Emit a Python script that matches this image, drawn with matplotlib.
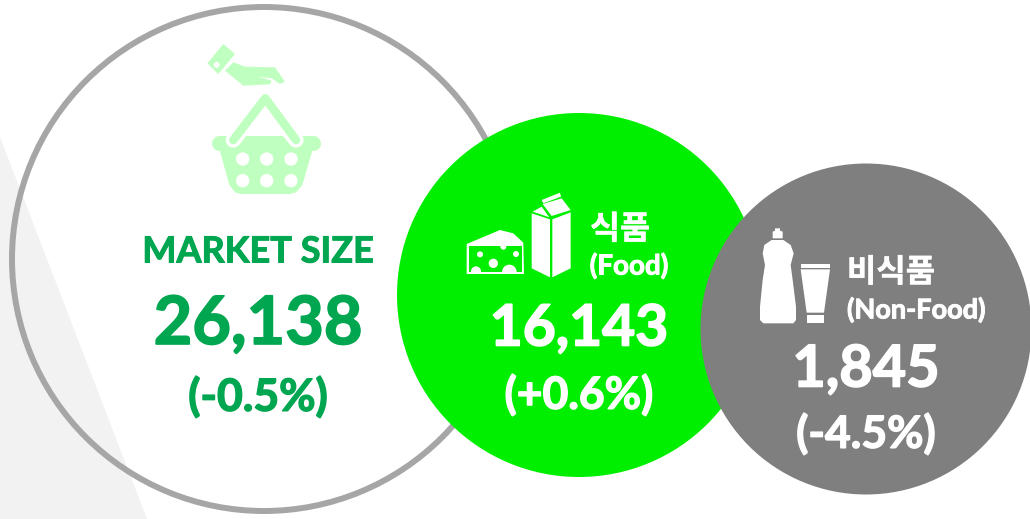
import matplotlib
matplotlib.use('Agg')
import matplotlib.pyplot as plt
import matplotlib.patheffects as pe
from matplotlib.patches import Circle, Polygon, Rectangle

# data
labels_kr = ['', '식품', '비식품']
labels_en = ['MARKET SIZE', '(Food)', '(Non-Food)']
values = ['26,138', '16,143', '1,845']
changes = ['(-0.5%)', '(+0.6%)', '(-4.5%)']

GREEN = '#00a650'
LIME = '#00ee00'
GRAY = '#7f7f7f'
PALE = '#bfffbf'
FONT = ['Lato', 'Noto Sans CJK KR', 'DejaVu Sans']

fig = plt.figure(figsize=(10.30, 5.19), dpi=100)
ax = fig.add_axes([0, 0, 1, 1])
ax.set_xlim(0, 1030)
ax.set_ylim(519, 0)
ax.axis('off')


def zoomed(pts, ox, oy):
    # the icons were measured on 3x crops
    return [(ox + x / 3, oy + y / 3) for x, y in pts]


def poly(pts, ox, oy, color, z=5):
    ax.add_patch(Polygon(zoomed(pts, ox, oy), closed=True, fc=color, ec='none', zorder=z))


def dot(x, y, r, ox, oy, color, z=6):
    c = Circle((ox + x / 3, oy + y / 3), r / 3, fc=color, ec='none', zorder=z)
    ax.add_patch(c)
    return c


def label(x, y, s, color, size, stroke=0.7):
    ax.text(x, y, s, color=color, fontsize=size, ha='center', va='center', fontweight='bold',
            family=FONT, zorder=9,
            path_effects=[pe.withStroke(linewidth=stroke, foreground=color)])


# background
ax.add_patch(Polygon([(0, 137), (147, 519), (0, 519)], fc='#f2f2f2', ec='none', zorder=0))
ax.add_patch(Circle((264, 259), 252, fc='none', ec='#a6a6a6', lw=4.3, zorder=1))
ax.add_patch(Circle((579, 295), 182, fc=LIME, ec='none', zorder=2))
ax.add_patch(Circle((866, 329), 165.5, fc=GRAY, ec='none', zorder=3))

# basket icon
ox, oy = 190, 30
poly([(100, 42), (135, 72), (85, 132), (52, 100)], ox, oy, PALE)
dot(80, 105, 9, ox, oy, 'white')
poly([(130, 97), (165, 110), (255, 112), (285, 155), (270, 162), (245, 145), (205, 140),
      (245, 152), (240, 163), (160, 167), (105, 122)], ox, oy, PALE)
poly([(85, 345), (372, 345), (337, 465), (318, 487), (300, 492), (155, 492), (135, 487),
      (118, 465)], ox, oy, PALE)
ax.plot([ox + 88 / 3, ox + 370 / 3], [oy + 338 / 3, oy + 338 / 3], color=PALE, lw=10.8,
        solid_capstyle='round', zorder=5)
hx = [ox + v / 3 for v in (130, 226, 318)]
hy = [oy + v / 3 for v in (330, 205, 330)]
ax.plot([hx[0], hx[0] + 12], [hy[0], hy[0] - 15], color='white', lw=11, solid_capstyle='round', zorder=6)
ax.plot([hx[2], hx[2] - 12], [hy[2], hy[2] - 15], color='white', lw=11, solid_capstyle='round', zorder=6)
ax.plot(hx, hy, color=PALE, lw=6.2, solid_capstyle='round', solid_joinstyle='round', zorder=7)
for x in (158, 230, 303):
    for y in (387, 452):
        dot(x, y, 20, ox, oy, 'white')

# cheese and milk icon
ox, oy = 450, 180
poly([(50, 192), (150, 150), (190, 160), (220, 188), (222, 282), (50, 282)], ox, oy, 'white')
poly([(56, 197), (216, 197), (216, 277), (56, 277)], ox, oy, LIME, 6)
clip = Rectangle((ox + 50 / 3, oy + 190 / 3), 172 / 3, 92 / 3, transform=ax.transData)
for x, y, r in [(90, 223, 9), (130, 250, 14), (198, 222, 9), (160, 200, 9),
                (78, 274, 15), (178, 276, 22)]:
    dot(x, y, r, ox, oy, 'white', 7).set_clip_path(clip)
poly([(245, 100), (300, 118), (300, 292), (245, 265)], ox, oy, 'white')
poly([(307, 118), (362, 97), (362, 265), (307, 292)], ox, oy, 'white')
poly([(248, 95), (275, 80), (298, 112)], ox, oy, 'white')
poly([(275, 60), (330, 38), (333, 50), (280, 70)], ox, oy, 'white')
poly([(278, 72), (335, 55), (362, 90), (305, 108)], ox, oy, 'white')

# bottle and tube icon
ox, oy = 750, 220
poly([(75, 25), (90, 25), (90, 32), (98, 35), (98, 55), (68, 55), (68, 35), (75, 32)], ox, oy, 'white')
poly([(65, 60), (100, 60), (122, 75), (131, 100), (122, 135), (128, 180), (138, 260),
      (138, 300), (130, 310), (40, 310), (30, 300), (30, 260), (38, 180), (45, 135),
      (38, 100), (43, 75)], ox, oy, 'white')
poly([(152, 132), (240, 132), (240, 143), (152, 143)], ox, oy, 'white')
poly([(152, 148), (240, 148), (222, 278), (170, 278)], ox, oy, 'white')
poly([(170, 284), (222, 284), (222, 310), (170, 310)], ox, oy, 'white')

# text
label(258, 252, labels_en[0], GREEN, 26)
label(258, 325, values[0], GREEN, 48, 1.2)
label(258, 397, changes[0], GREEN, 32, 1)

label(620, 229, labels_kr[1], 'white', 23.5, 0.3)
label(629, 266, labels_en[1], 'white', 20)
label(579, 329, values[1], 'white', 41, 1.2)
label(579, 395, changes[1], 'white', 32, 1)

label(891, 272, labels_kr[2], 'white', 23, 0.3)
label(916, 310, labels_en[2], 'white', 19.5)
label(866, 370, values[2], 'white', 41.5, 1.2)
label(866, 434, changes[2], 'white', 32, 1)

plt.savefig('out.png', dpi=100)
